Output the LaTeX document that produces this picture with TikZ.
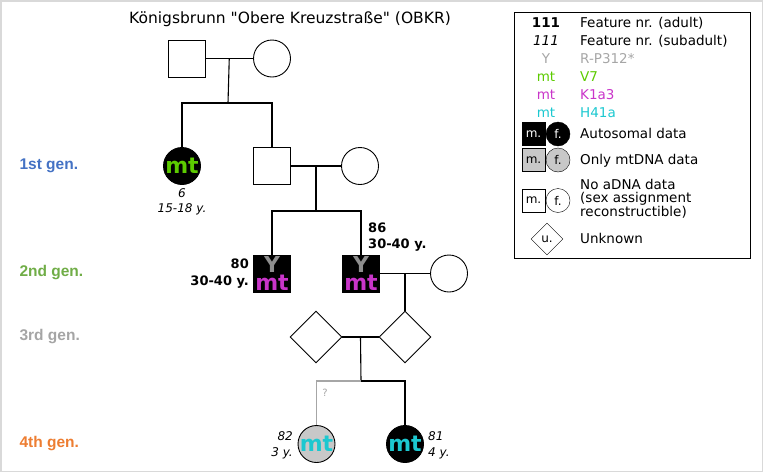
\documentclass[tikz,border=0pt]{standalone}
\usepackage{fontspec}
\setmainfont{DejaVu Sans}
\newfontfamily\titlefont{DejaVu Sans}
\newfontfamily\genfont{Liberation Sans}
\usetikzlibrary{shapes.geometric}

\definecolor{mtgreen}{HTML}{5CCB00}
\definecolor{mtpink}{HTML}{C935C9}
\definecolor{mtcyan}{HTML}{1CC8D0}
\definecolor{ygray}{HTML}{8E8E8E}
\definecolor{lightfill}{HTML}{C8C8C8}
\definecolor{gen1}{HTML}{4472C4}
\definecolor{gen2}{HTML}{70AD47}
\definecolor{gen3}{HTML}{A5A5A5}
\definecolor{gen4}{HTML}{ED7D31}

\begin{document}
\begin{tikzpicture}[x=1pt,y=-1pt,
        male/.style={draw, rectangle, minimum size=37pt, inner sep=0pt, line width=0.9pt},
        female/.style={draw, circle, minimum size=37pt, inner sep=0pt, line width=0.9pt},
        unknown/.style={draw, diamond, minimum size=52pt, inner sep=0pt, line width=0.9pt},
        bigtag/.style={font=\fontsize{22}{22}\selectfont\bfseries, inner sep=0pt},
        genlabel/.style={anchor=west, font=\genfont\fontsize{15.5}{15.5}\selectfont\bfseries},
        adult/.style={font=\fontsize{13}{13}\selectfont\bfseries, inner sep=0pt},
        subadult/.style={font=\fontsize{12}{12}\selectfont\itshape, inner sep=0pt},
        legtext/.style={anchor=base west, font=\fontsize{13.5}{13}\selectfont, inner sep=0pt, align=left},
        legsym/.style={anchor=base, font=\fontsize{13.5}{13}\selectfont, inner sep=0pt},
        link/.style={line width=1.1pt}]
    \useasboundingbox (0,0) rectangle (763,472);
    \draw[gray!30, line width=1.5pt] (0.75,0.75) rectangle (762.25,471.25);

    \node[font=\titlefont\fontsize{15.5}{15.5}\selectfont] (title) at (290,19) {Königsbrunn "Obere Kreuzstraße" (OBKR)};

    % generations
    \node[genlabel, text=gen1] (g1) at (16,166) {1st gen.};
    \node[genlabel, text=gen2] (g2) at (16,273) {2nd gen.};
    \node[genlabel, text=gen3] (g3) at (16,337) {3rd gen.};
    \node[genlabel, text=gen4] (g4) at (16,444) {4th gen.};

    % founders
    \node[male] (m0) at (186.5,58.5) {};
    \node[female] (f0) at (272,58.5) {};
    \draw[link] (m0) -- node[coordinate] (u0) {} (f0);
    \coordinate (s0) at (228,103);
    \draw[link] (u0) -- (s0);

    % 1st gen.
    \node[female, fill=black, text=mtgreen, bigtag] (d1) at (182,166) {mt};
    \node[subadult] (d1nr) at (182,193) {6};
    \node[subadult] (d1age) at (182,209) {15-18 y.};
    \node[male] (m1) at (272,166) {};
    \node[female] (f1) at (360,166) {};
    \draw[link] (d1) |- (s0) -| (m1);
    \draw[link] (m1) -- node[coordinate] (u1) {} (f1);
    \coordinate (s1) at (316,211);
    \draw[link] (u1) -- (s1);

    % 2nd gen.
    \node[male, fill=black] (m2a) at (272,273.5) {};
    \node[bigtag, text=ygray, anchor=base] (m2ay) at (272,272) {Y};
    \node[bigtag, text=mtpink, anchor=base] (m2amt) at (272,290) {mt};
    \node[adult, anchor=base east] (m2anr) at (249,268) {80};
    \node[adult, anchor=base east] (m2aage) at (249,285) {30-40 y.};
    \node[male, fill=black] (m2b) at (361,273.5) {};
    \node[bigtag, text=ygray, anchor=base] (m2by) at (361,272) {Y};
    \node[bigtag, text=mtpink, anchor=base] (m2bmt) at (361,290) {mt};
    \node[adult, anchor=base west] (m2bnr) at (368,232) {86};
    \node[adult, anchor=base west] (m2bage) at (368,248) {30-40 y.};
    \node[female] (f2) at (449,273.5) {};
    \draw[link] (m2a) |- (s1) -| (m2b);
    \draw[link] (m2b) -- node[coordinate] (u2) {} (f2);

    % 3rd gen.
    \node[unknown] (u3a) at (316,337) {};
    \node[unknown] (u3b) at (405,337) {};
    \draw[link] (u2) -- (u3b);
    \draw[link] (u3a) -- node[coordinate] (u3) {} (u3b);
    \coordinate (s3) at (361,381);
    \draw[link] (u3) -- (s3);

    % 4th gen.
    \node[female, fill=lightfill, text=mtcyan, bigtag] (c4a) at (316.5,444) {mt};
    \node[female, fill=black, text=mtcyan, bigtag] (c4b) at (405,444) {mt};
    \node[subadult, anchor=base east] (c4anr) at (293,440) {82};
    \node[subadult, anchor=base east] (c4aage) at (293,456) {3 y.};
    \node[subadult, anchor=base west] (c4bnr) at (428,440) {81};
    \node[subadult, anchor=base west] (c4bage) at (428,456) {4 y.};
    \draw[link, gray!70] (s3) -| (c4a);
    \draw[link] (s3) -| (c4b);
    \node[text=gray!70, font=\fontsize{10}{10}\selectfont] (q) at (325,393) {?};

    % legend
    \draw[line width=0.9pt] (514,12) rectangle (750,258);
    \node[legsym, font=\fontsize{13.5}{13}\selectfont\bfseries] (k1) at (546,27.5) {111};
    \node[legtext] (k1t) at (580,27.5) {Feature nr. (adult)};
    \node[legsym, font=\fontsize{13.5}{13}\selectfont\itshape] (k2) at (546,45.5) {111};
    \node[legtext] (k2t) at (580,45.5) {Feature nr. (subadult)};
    \node[legsym, text=gray!70] (k3) at (546,63.5) {Y};
    \node[legtext, text=gray!70] (k3t) at (580,63.5) {R-P312*};
    \node[legsym, text=mtgreen] (k4) at (546,81.5) {mt};
    \node[legtext, text=mtgreen] (k4t) at (580,81.5) {V7};
    \node[legsym, text=mtpink] (k5) at (546,99.5) {mt};
    \node[legtext, text=mtpink] (k5t) at (580,99.5) {K1a3};
    \node[legsym, text=mtcyan] (k6) at (546,117.5) {mt};
    \node[legtext, text=mtcyan] (k6t) at (580,117.5) {H41a};

    \node[draw, fill=black, text=white, minimum size=23pt, inner sep=0pt, font=\fontsize{12}{12}\selectfont] (a1) at (533.5,134) {m.};
    \node[draw, circle, fill=black, text=white, minimum size=24pt, inner sep=0pt, font=\fontsize{12}{12}\selectfont] (a2) at (558,134) {f.};
    \node[legtext] (a3) at (580,138.5) {Autosomal data};
    \node[draw, fill=lightfill, minimum size=23pt, inner sep=0pt, font=\fontsize{12}{12}\selectfont] (b1) at (533.5,160) {m.};
    \node[draw, circle, fill=lightfill, minimum size=24pt, inner sep=0pt, font=\fontsize{12}{12}\selectfont] (b2) at (558,160) {f.};
    \node[legtext] (b3) at (580,164.5) {Only mtDNA data};
    \node[draw, minimum size=23pt, inner sep=0pt, font=\fontsize{12}{12}\selectfont] (n1) at (533.5,200.5) {m.};
    \node[draw, circle, minimum size=24pt, inner sep=0pt, font=\fontsize{12}{12}\selectfont] (n2) at (558,200.5) {f.};
    \node[legtext] (n3) at (580,216.5) {No aDNA data\\(sex assignment\\reconstructible)};
    \node[draw, diamond, minimum size=32pt, inner sep=0pt, font=\fontsize{12}{12}\selectfont] (x1) at (547,239) {u.};
    \node[legtext] (x2) at (580,243.5) {Unknown};
\end{tikzpicture}
\end{document}
